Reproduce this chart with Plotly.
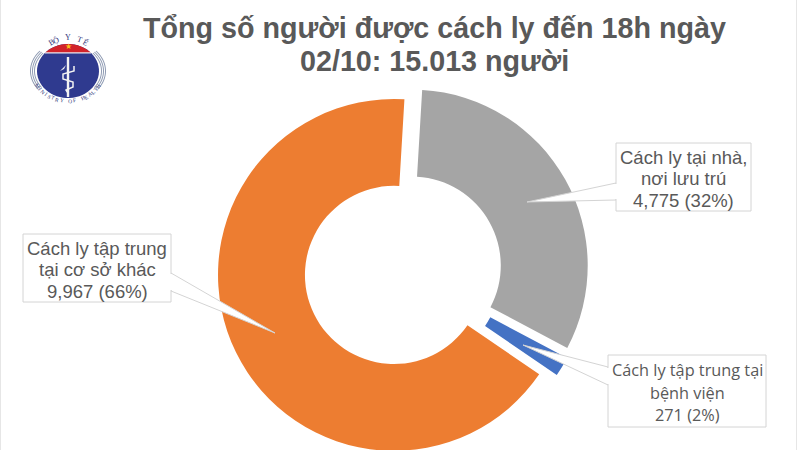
import numpy as np
import plotly.graph_objects as go

categories = ["Cách ly tại nhà, nơi lưu trú", "Cách ly tập trung tại bệnh viện", "Cách ly tập trung tại cơ sở khác"]
values = [4775, 271, 9967]
colors = ["#a5a5a5", "#4472c4", "#ed7d31"]
title_lines = ["Tổng số người được cách ly đến 18h ngày", "02/10: 15.013 người"]
callout_lines = [["Cách ly tại nhà,", "nơi lưu trú", "4,775 (32%)"],
                 ["Cách ly tập trung tại", "bệnh viện", "271 (2%)"],
                 ["Cách ly tập trung", "tại cơ sở khác", "9,967 (66%)"]]

W, H = 800, 480
fx = lambda x: x / W
fy = lambda y: 1 - y / H
cx, cy, half = 403, 270.5, 186

fig = go.Figure(go.Pie(
    labels=categories, values=values, sort=False, direction="clockwise", rotation=3.4,
    hole=0.506, pull=0.057, textinfo="none", hoverinfo="label+value+percent",
    marker=dict(colors=colors, line=dict(width=0)),
    domain=dict(x=[fx(cx - half), fx(cx + half)], y=[fy(cy + half), fy(cy - half)]),
    showlegend=False))

shapes, annos = [], []

def poly(pts, fill, line=None, width=1, close=True):
    d = "M " + " L ".join(f"{fx(x):.5f},{fy(y):.5f}" for x, y in pts) + (" Z" if close else "")
    shapes.append(dict(type="path", xref="paper", yref="paper", path=d, fillcolor=fill,
                       line=dict(color=line or "rgba(0,0,0,0)", width=width if line else 0)))

def text(x, y, s, size, color, family, angle=0, bold=False):
    annos.append(dict(x=fx(x), y=fy(y), xref="paper", yref="paper", text=f"<b>{s}</b>" if bold else s,
                      showarrow=False, xanchor="center", yanchor="middle", textangle=angle,
                      font=dict(size=size, color=color, family=family)))

def callout(box, tip, base, lines, size, family, step, top):
    x0, y0, x1, y1 = box
    poly([base[0], tip, base[1]], "white", "#d4d4d4", 1)
    shapes.append(dict(type="rect", xref="paper", yref="paper", x0=fx(x0), x1=fx(x1), y0=fy(y1), y1=fy(y0),
                       fillcolor="white", line=dict(color="#d4d4d4", width=1)))
    poly([(base[0][0], base[0][1] + 1), (base[1][0], base[1][1] - 1)], "rgba(0,0,0,0)", "white", 2, close=False)
    for i, s in enumerate(lines):
        text((x0 + x1) / 2, top + i * step, s, size, "#595959", family)

callout((616, 143, 751, 211), (527, 202), [(616, 183), (616, 200)], callout_lines[0], 18.5, "Liberation Sans", 21.5, 157)
callout((608, 355, 766, 427), (523, 345), [(608, 367), (608, 385)], callout_lines[1], 16.3, "Open Sans", 22.5, 370)
callout((23, 234, 171, 302), (275, 333), [(171, 273), (171, 291)], callout_lines[2], 18.5, "Liberation Sans", 21.5, 248)

text(434, 28, title_lines[0], 28.7, "#595959", "Liberation Sans", bold=True)
text(434, 61, title_lines[1], 28.7, "#595959", "Liberation Sans", bold=True)

# logo (slightly flattened emblem)
lx, ly = 68, 71
def pt(rx, ry, deg):
    a = np.radians(deg)
    return (lx + rx * np.sin(a), ly - ry * np.cos(a))
def arc(r0, r1, a0, a1, fill, n=24):
    t = np.linspace(a0, a1, n)
    poly([pt(r1, r1 * 0.8, a) for a in t] + [pt(r0, r0 * 0.8, a) for a in t[::-1]], fill)
for r0, r1 in [(33, 34), (35, 36), (37, 38)]:
    arc(r0, r1, 48, 128, "#8f9bb3")
    arc(r0, r1, -128, -48, "#8f9bb3")
poly([pt(31, 27, a) for a in np.linspace(0, 360, 60)], "#2f3a8f")
poly([pt(31, 27, a) for a in np.linspace(-48, 48, 30)], "#d2232a")
poly([pt(31, 27, -48), pt(31, 27, 48)], "rgba(0,0,0,0)", "#e8e8f0", 1.2, close=False)
text(lx, 47, "★", 8, "#f7c21c", "DejaVu Sans")
poly([(lx, 57), (lx, 97)], "rgba(0,0,0,0)", "#f2f2f2", 2.4, close=False)
sx = [lx + 6, lx + 6, lx - 5, lx - 5, lx + 5, lx + 5, lx - 2, lx]
sy = [66, 71, 74, 79, 82, 87, 90, 93]
poly(list(zip(sx, sy)), "rgba(0,0,0,0)", "#f2f2f2", 1.5, close=False)
poly([(60, 71), (66, 65), (64, 69), (60, 71)], "#f2f2f2")

def arc_text(s, rx, ry, a0, a1, bottom=False, size=6):
    for ch, a in zip(s, np.linspace(a0, a1, len(s))):
        if ch != " ":
            x, y = pt(rx, ry, a)
            text(x, y, ch, size, "#30357a", "Liberation Serif", angle=(a - 180) if bottom else a)
arc_text("BỘ Y TẾ", 34, 33, -30, 30, size=8)
arc_text("MINISTRY OF HEALTH", 35, 30, 240, 120, bottom=True, size=5.5)

for x in (0.5, 796.5):
    poly([(x, 0), (x, 450)], "rgba(0,0,0,0)", "#e6e6e6", 1, close=False)

fig.update_layout(width=W, height=H, margin=dict(l=0, r=0, t=0, b=0), paper_bgcolor="white",
                  shapes=shapes, annotations=annos)
fig.write_html("out.html", config=dict(displayModeBar=False),
               post_script="document.body.style.margin='0';document.documentElement.style.overflow='hidden';")
